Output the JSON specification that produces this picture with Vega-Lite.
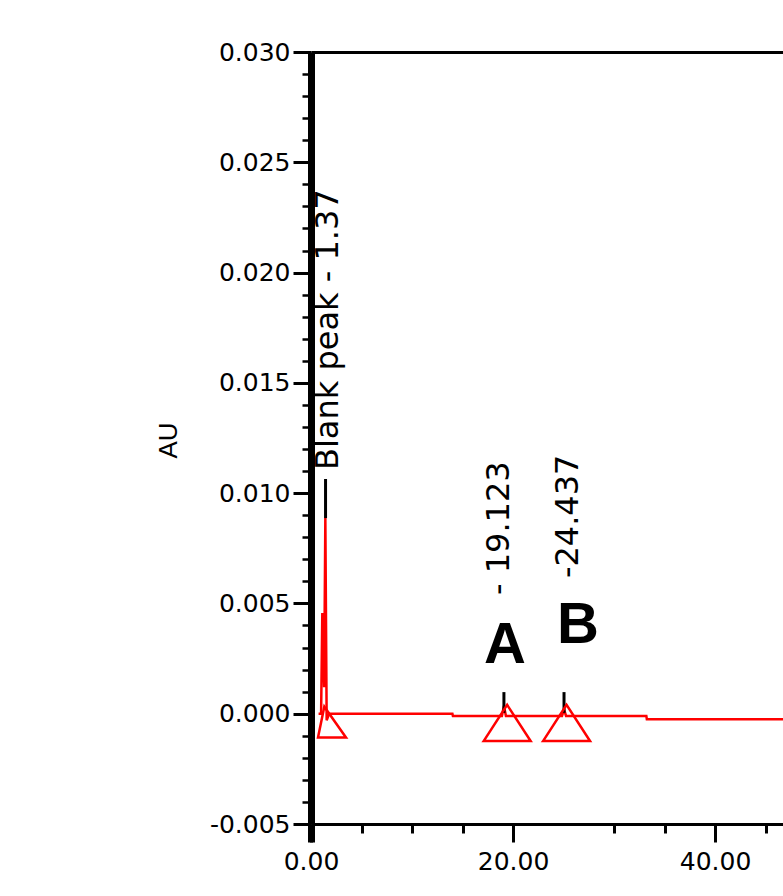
{
  "$schema": "https://vega.github.io/schema/vega-lite/v6.json",
  "width": 472,
  "height": 772,
  "autosize": {"type": "none"},
  "padding": {"left": 311, "top": 52, "right": 0, "bottom": 72},
  "background": "white",
  "config": {"view": {"stroke": null}, "axis": {"grid": false}},
  "datasets": {
    "trace": [
      {"x": 0.75, "y": 0.0},
      {"x": 1.0, "y": 0.0},
      {"x": 1.12, "y": 0.00457},
      {"x": 1.3, "y": 0.0012},
      {"x": 1.42, "y": 0.00887},
      {"x": 1.55, "y": -0.0003},
      {"x": 1.8, "y": 0.0},
      {"x": 14.0, "y": 0.0},
      {"x": 14.05, "y": -0.0001},
      {"x": 18.9, "y": -0.0001},
      {"x": 19.1, "y": 0.00035},
      {"x": 19.3, "y": -0.0001},
      {"x": 24.85, "y": -0.0001},
      {"x": 25.05, "y": 0.0002},
      {"x": 25.25, "y": -0.0001},
      {"x": 33.2, "y": -0.0001},
      {"x": 33.25, "y": -0.00025},
      {"x": 46.73, "y": -0.00025}
    ],
    "stems": [
      {"x": 1.44, "y": 0.00887, "y2": 0.01064},
      {"x": 19.1, "y": 0.00004, "y2": 0.00098},
      {"x": 25.05, "y": 0.00004, "y2": 0.00098}
    ],
    "markers": [
      {"x": 19.42, "y": -0.00042},
      {"x": 25.3, "y": -0.00042}
    ],
    "blankmarker": [
      {"x": 2.08, "y": -0.00038}
    ],
    "labels": [
      {"x": 1.73, "y": 0.01105, "text": "Blank peak - 1.37"},
      {"x": 18.61, "y": 0.00538, "text": "- 19.123"},
      {"x": 25.45, "y": 0.00615, "text": "-24.437"}
    ],
    "letters": [
      {"x": 19.2, "y": 0.0023, "text": "A"},
      {"x": 26.44, "y": 0.00321, "text": "B"}
    ]
  },
  "resolve": {"axis": {"x": "independent", "y": "independent"}},
  "layer": [
    {
      "data": {"name": "trace"},
      "mark": {"type": "line", "color": "#ff0000", "strokeWidth": 2.5, "clip": true},
      "encoding": {
        "x": {
          "field": "x", "type": "quantitative",
          "scale": {"domain": [0, 46.73], "nice": false, "zero": false},
          "axis": {
            "orient": "bottom", "values": [0, 20, 40], "format": ".2f", "title": null,
            "domainColor": "black", "domainWidth": 3,
            "tickColor": "black", "tickWidth": 3, "tickSize": 18,
            "labelFont": "DejaVu Sans", "labelFontSize": 25, "labelColor": "black",
            "labelPadding": 7, "labelFlush": false, "labelOverlap": false
          }
        },
        "y": {
          "field": "y", "type": "quantitative",
          "scale": {"domain": [-0.005, 0.03], "nice": false, "zero": false},
          "axis": {
            "orient": "left",
            "values": [-0.005, 0, 0.005, 0.01, 0.015, 0.02, 0.025, 0.03],
            "labelExpr": "datum.value < 0 ? '-' + format(-datum.value, '.3f') : format(datum.value, '.3f')",
            "title": "AU",
            "titleFont": "Liberation Sans", "titleFontSize": 26, "titleFontWeight": "normal",
            "titleColor": "black", "titleAngle": 270, "titleAlign": "center", "titleBaseline": "middle",
            "titleX": -143, "titleY": 388,
            "domainColor": "black", "domainWidth": 7,
            "tickColor": "black", "tickWidth": 3, "tickSize": 18,
            "labelFont": "DejaVu Sans", "labelFontSize": 25, "labelColor": "black",
            "labelPadding": 3, "labelFlush": false, "labelOverlap": false
          }
        }
      }
    },
    {
      "data": {"name": "stems"},
      "mark": {"type": "rule", "color": "black", "strokeWidth": 3},
      "encoding": {
        "x": {
          "field": "x", "type": "quantitative",
          "scale": {"domain": [0, 46.73], "nice": false, "zero": false},
          "axis": {
            "orient": "bottom", "values": [5, 10, 15, 30, 35, 45], "labels": false, "domain": false,
            "title": null, "tickColor": "black", "tickWidth": 3, "tickSize": 9
          }
        },
        "y": {
          "field": "y", "type": "quantitative",
          "scale": {"domain": [-0.005, 0.03], "nice": false, "zero": false},
          "axis": {
            "orient": "left",
            "values": [-0.004, -0.003, -0.002, -0.001, 0.001, 0.002, 0.003, 0.004, 0.006, 0.007, 0.008, 0.009, 0.011, 0.012, 0.013, 0.014, 0.016, 0.017, 0.018, 0.019, 0.021, 0.022, 0.023, 0.024, 0.026, 0.027, 0.028, 0.029],
            "labels": false, "domain": false, "title": null,
            "tickColor": "black", "tickWidth": 2.5, "tickSize": 9
          }
        },
        "y2": {"field": "y2"}
      }
    },
    {
      "data": {"name": "markers"},
      "mark": {"type": "point", "shape": "M-1,0.77L0,-0.77L1,0.77Z", "filled": false, "stroke": "#ff0000", "strokeWidth": 2.5, "size": 2209, "opacity": 1},
      "encoding": {
        "x": {
          "field": "x", "type": "quantitative",
          "scale": {"domain": [0, 46.73], "nice": false, "zero": false},
          "axis": {
            "orient": "top", "labels": false, "ticks": false, "domain": true, "title": null,
            "domainColor": "black", "domainWidth": 3
          }
        },
        "y": {
          "field": "y", "type": "quantitative",
          "scale": {"domain": [-0.005, 0.03], "nice": false, "zero": false},
          "axis": null
        }
      }
    },
    {
      "data": {"name": "blankmarker"},
      "mark": {"type": "point", "shape": "M-1,1.1L-0.55,-1.1L1,1.1Z", "filled": false, "stroke": "#ff0000", "strokeWidth": 2.5, "size": 784, "opacity": 1},
      "encoding": {
        "x": {
          "field": "x", "type": "quantitative",
          "scale": {"domain": [0, 46.73], "nice": false, "zero": false},
          "axis": {
            "orient": "bottom", "values": [0], "labels": false, "domain": false, "title": null,
            "tickColor": "black", "tickWidth": 7, "tickSize": 18
          }
        },
        "y": {
          "field": "y", "type": "quantitative",
          "scale": {"domain": [-0.005, 0.03], "nice": false, "zero": false},
          "axis": null
        }
      }
    },
    {
      "data": {"name": "labels"},
      "mark": {"type": "text", "angle": 270, "align": "left", "baseline": "middle", "font": "DejaVu Sans", "fontSize": 32, "color": "black"},
      "encoding": {
        "x": {"field": "x", "type": "quantitative", "scale": {"domain": [0, 46.73], "nice": false, "zero": false}, "axis": null},
        "y": {"field": "y", "type": "quantitative", "scale": {"domain": [-0.005, 0.03], "nice": false, "zero": false}, "axis": null},
        "text": {"field": "text"}
      }
    },
    {
      "data": {"name": "letters"},
      "mark": {"type": "text", "align": "center", "baseline": "alphabetic", "font": "Liberation Sans", "fontSize": 58, "fontWeight": "bold", "color": "black"},
      "encoding": {
        "x": {"field": "x", "type": "quantitative", "scale": {"domain": [0, 46.73], "nice": false, "zero": false}, "axis": null},
        "y": {"field": "y", "type": "quantitative", "scale": {"domain": [-0.005, 0.03], "nice": false, "zero": false}, "axis": null},
        "text": {"field": "text"}
      }
    }
  ]
}
